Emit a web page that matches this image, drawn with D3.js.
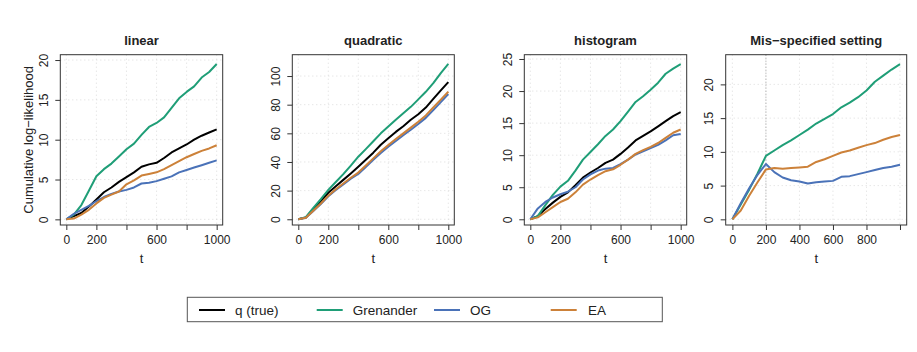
<!DOCTYPE html>
<html><head><meta charset="utf-8">
<script src="https://cdn.jsdelivr.net/npm/d3@7/dist/d3.min.js"></script>
<style>
body{margin:0;background:#fff;}
text{font-family:"Liberation Sans",Arial,Helvetica,sans-serif;fill:#222;}
</style></head>
<body><svg id="chart" width="917" height="352"></svg>
<script>
// ---- data ----
const tValues = [0,50,100,150,200,250,300,350,400,450,500,550,600,650,700,750,800,850,900,950,1000];
const seriesNames = ["q (true)","Grenander","OG","EA"];
const panelTitles = ["linear","quadratic","histogram","Mis\u2212specified setting"];

const linearTrue = [0,0.4,0.8,1.6,2.5,3.4,4.0,4.7,5.3,5.9,6.6,6.9,7.1,7.7,8.4,8.9,9.4,10.0,10.5,10.9,11.3];
const linearGren = [0,0.6,1.8,3.6,5.4,6.3,7.0,7.9,8.8,9.5,10.6,11.6,12.1,12.8,14.0,15.2,16.0,16.7,17.8,18.5,19.5];
const linearOG   = [0,0.7,1.2,1.7,2.3,2.8,3.2,3.5,3.7,4.0,4.5,4.6,4.8,5.1,5.4,5.9,6.2,6.5,6.8,7.1,7.4];
const linearEA   = [0,0.1,0.6,1.2,2.0,2.7,3.1,3.5,4.4,4.9,5.5,5.7,5.9,6.3,6.8,7.3,7.8,8.2,8.6,8.9,9.3];

const quadTrue = [0,1.2,7,12.5,18.5,23,27.5,32,36.7,41.5,46.5,52,56.5,61,65,69.5,73.3,78,84,90,95.8];
const quadGren = [0,1.5,8,14,20.5,26,31.5,37.5,43.7,49,54.5,60,64.7,69.5,74,78.5,83.7,89,95,102,108.5];
const quadOG   = [0,1,5.8,10.7,16,20.5,24.3,28.3,31.6,36.5,41.5,46.3,50.7,54.7,58.7,62.5,66.5,70.8,76.2,81.8,87.4];
const quadEA   = [0,1,6,11,16.5,21,25,29,32.6,37.5,42.5,47.5,51.9,56,60,64,68.1,72.5,78,83.5,89];

const histTrue = [0,0.5,1.6,2.6,3.5,4.2,5.3,6.5,7.3,8.0,8.8,9.3,10.2,11.2,12.3,13.0,13.7,14.5,15.3,16.1,16.7];
const histGren = [0,0.5,2.2,3.8,5.1,6.0,7.6,9.3,10.5,11.7,13.0,14.0,15.3,16.8,18.3,19.2,20.2,21.3,22.7,23.5,24.2];
const histOG   = [0,1.7,2.7,3.4,3.9,4.3,5.0,6.2,7.0,7.6,7.9,8.0,8.6,9.3,10.1,10.6,11.1,11.6,12.3,13.1,13.3];
const histEA   = [0,0.3,1.1,1.9,2.7,3.2,4.2,5.4,6.2,6.9,7.5,7.8,8.5,9.3,10.2,10.8,11.3,11.9,12.7,13.5,14.0];

const misGren = [0,2.2,4.4,6.8,9.4,10.2,11.0,11.7,12.5,13.3,14.2,14.9,15.6,16.6,17.3,18.1,19.1,20.4,21.3,22.2,23.0];
const misOG   = [0,2.4,4.6,6.6,8.2,7.0,6.2,5.8,5.6,5.3,5.5,5.6,5.7,6.3,6.4,6.7,7.0,7.3,7.6,7.8,8.1];
const misEA   = [0,1.3,3.5,5.5,7.4,7.6,7.5,7.6,7.7,7.8,8.5,8.9,9.4,9.9,10.2,10.6,11.0,11.3,11.8,12.2,12.5];

const xTicks = [0,200,400,600,800,1000];
const xTickLabelsA = ["0","200","","600","","1000"];
const xTickLabelsB = ["0","200","400","600","800",""];
const yTicksLinear = [0,5,10,15,20];
const yTicksQuad = [0,20,40,60,80,100];
const yTicksHist = [0,5,10,15,20,25];
const yTicksMis = [0,5,10,15,20];

const colors = {"q (true)":"#000000","Grenander":"#1f9e77","OG":"#4a72b8","EA":"#cc8139"};

// ---- layout ----
const panels = [
  {title:panelTitles[0], x0:60.3, x1:222.7, ydom:[-0.71,20.67], yticks:yTicksLinear, xlabels:xTickLabelsA,
   series:[["q (true)",linearTrue],["Grenander",linearGren],["OG",linearOG],["EA",linearEA]], ylab:true},
  {title:panelTitles[1], x0:292.3, x1:454.3, ydom:[-4.0,114.9], yticks:yTicksQuad, xlabels:xTickLabelsA,
   series:[["q (true)",quadTrue],["Grenander",quadGren],["OG",quadOG],["EA",quadEA]]},
  {title:panelTitles[2], x0:524.3, x1:686.7, ydom:[-0.89,25.67], yticks:yTicksHist, xlabels:xTickLabelsA,
   series:[["q (true)",histTrue],["Grenander",histGren],["OG",histOG],["EA",histEA]]},
  {title:panelTitles[3], x0:725.7, x1:906.7, ydom:[-0.84,24.4], yticks:yTicksMis, xlabels:xTickLabelsB,
   series:[["Grenander",misGren],["OG",misOG],["EA",misEA]], vline:200}
];
const plotTop = 54.7, plotBottom = 225;

const svg = d3.select("#chart");

panels.forEach(p => {
  const x = d3.scaleLinear().domain([-40,1040]).range([p.x0,p.x1]);
  const y = d3.scaleLinear().domain(p.ydom).range([plotBottom,plotTop]);
  const g = svg.append("g");

  // grid
  g.selectAll(".gx").data(xTicks).enter().append("line")
    .attr("x1",d=>x(d)).attr("x2",d=>x(d)).attr("y1",plotTop).attr("y2",plotBottom)
    .attr("stroke","#d3d3d3").attr("stroke-width",0.8).attr("stroke-dasharray","1,3");
  g.selectAll(".gy").data(p.yticks).enter().append("line")
    .attr("x1",p.x0).attr("x2",p.x1).attr("y1",d=>y(d)).attr("y2",d=>y(d))
    .attr("stroke","#d3d3d3").attr("stroke-width",0.8).attr("stroke-dasharray","1,3");

  if (p.vline !== undefined) {
    g.append("line").attr("x1",x(p.vline)).attr("x2",x(p.vline)).attr("y1",plotTop).attr("y2",plotBottom)
      .attr("stroke","#9a9a9a").attr("stroke-width",0.9).attr("stroke-dasharray","1,2");
  }

  // lines
  const line = d3.line().x((d,i)=>x(tValues[i])).y(d=>y(d));
  p.series.forEach(([name,vals]) => {
    g.append("path").datum(vals).attr("d",line).attr("fill","none")
      .attr("stroke",colors[name]).attr("stroke-width",2).attr("stroke-linejoin","round");
  });

  // box
  g.append("rect").attr("x",p.x0).attr("y",plotTop).attr("width",p.x1-p.x0).attr("height",plotBottom-plotTop)
    .attr("fill","none").attr("stroke","#333").attr("stroke-width",1);

  // x axis
  const xa = g.append("g").attr("transform",`translate(0,${plotBottom})`)
    .call(d3.axisBottom(x).tickValues(xTicks).tickSize(5).tickPadding(5)
      .tickFormat((d,i)=>p.xlabels[i]));
  xa.select(".domain").remove();
  xa.selectAll("line").attr("stroke","#333");
  xa.selectAll("text").attr("font-size","12px").attr("fill","#222")
    .attr("font-family","Liberation Sans, Arial, sans-serif");

  // y axis
  const ya = g.append("g").attr("transform",`translate(${p.x0},0)`)
    .call(d3.axisLeft(y).tickValues(p.yticks).tickSize(5).tickFormat(d3.format("d")));
  ya.select(".domain").remove();
  ya.selectAll("line").attr("stroke","#333");
  ya.selectAll("text").attr("font-size","12px").attr("fill","#222")
    .attr("font-family","Liberation Sans, Arial, sans-serif")
    .attr("text-anchor","middle").attr("dy",null).attr("x",null)
    .attr("transform","translate(-12.7,0) rotate(-90)");

  // title
  g.append("text").attr("x",(p.x0+p.x1)/2).attr("y",44.5).attr("text-anchor","middle")
    .attr("font-size","13px").attr("font-weight","bold").text(p.title);
  // x label
  g.append("text").attr("x",(p.x0+p.x1)/2).attr("y",263).attr("text-anchor","middle")
    .attr("font-size","13px").text("t");
  if (p.ylab) {
    g.append("text").attr("transform",`translate(33,${(plotTop+plotBottom)/2}) rotate(-90)`)
      .attr("text-anchor","middle").attr("font-size","13px").text("Cumulative log\u2212likelihood");
  }
});

// legend
const legX = [199, 316.7, 434, 550.7];
const lg = svg.append("g");
lg.append("rect").attr("x",187.3).attr("y",297.3).attr("width",475).attr("height",24.4)
  .attr("fill","none").attr("stroke","#555").attr("stroke-width",1);
seriesNames.forEach((n,i)=>{
  lg.append("line").attr("x1",legX[i]).attr("x2",legX[i]+26).attr("y1",310).attr("y2",310)
    .attr("stroke",colors[n]).attr("stroke-width",2);
  lg.append("text").attr("x", i===3 ? 588 : legX[i]+36).attr("y",315).attr("font-size","13.5px").text(n);
});
</script></body></html>
